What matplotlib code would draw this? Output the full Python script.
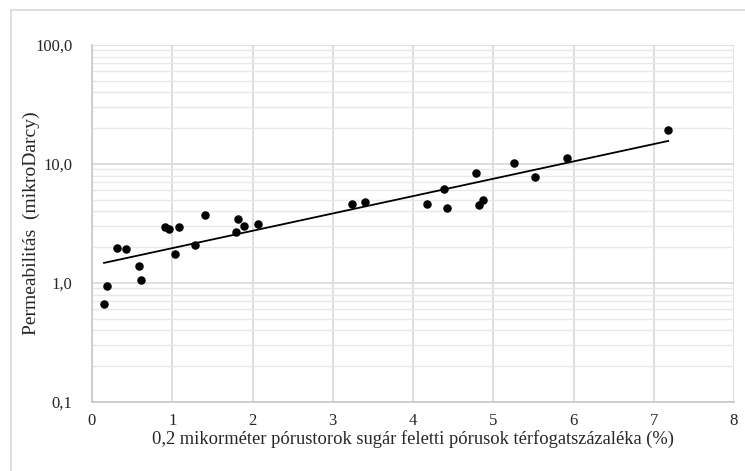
import numpy as np
import matplotlib
matplotlib.use('Agg')
import matplotlib.pyplot as plt
from matplotlib.ticker import FixedLocator, FuncFormatter, LogLocator, NullFormatter

# pore volume fraction above 0.2 micron throat radius (%) and permeability (mD)
pore_pct = [0.15, 0.19, 0.31, 0.42, 0.59, 0.61, 0.91, 0.96, 1.04, 1.09,
            1.28, 1.41, 1.79, 1.82, 1.89, 2.07, 3.24, 3.40, 4.18, 4.39,
            4.42, 4.78, 4.82, 4.87, 5.26, 5.52, 5.92, 7.18]
perm_md = [0.66, 0.95, 1.97, 1.93, 1.39, 1.07, 2.97, 2.83, 1.74, 2.97,
           2.10, 3.75, 2.67, 3.47, 3.01, 3.13, 4.64, 4.79, 4.64, 6.20,
           4.29, 8.40, 4.50, 5.01, 10.26, 7.78, 11.2, 19.4]

x_ticks = [0, 1, 2, 3, 4, 5, 6, 7, 8]
y_ticks = [0.1, 1, 10, 100]

x_label = '0,2 mikorméter pórustorok sugár feletti pórusok térfogatszázaléka (%)'
y_label = 'Permeabilitás  (mikroDarcy)'

plt.rcParams['font.family'] = ['Liberation Serif', 'DejaVu Serif']

fig = plt.figure(figsize=(7.45, 4.71), dpi=100)
ax = fig.add_axes([92 / 745, 1 - 402 / 471, (734 - 92) / 745, (402 - 45) / 471])

ax.scatter(pore_pct, perm_md, s=26, color='black', zorder=3)

# exponential trend line (least squares on log y)
xs = np.array(pore_pct)
b, ln_a = np.polyfit(xs, np.log(perm_md), 1)
x_fit = np.linspace(xs.min(), xs.max(), 50)
ax.plot(x_fit, np.exp(ln_a + b * x_fit), color='black', lw=1.3, zorder=2)

ax.set_yscale('log')
ax.set_xlim(0, 8)
ax.set_ylim(0.1, 100)
ax.xaxis.set_major_locator(FixedLocator(x_ticks))
ax.yaxis.set_major_locator(FixedLocator(y_ticks))
ax.yaxis.set_minor_locator(LogLocator(base=10, subs=np.arange(2, 10)))
ax.yaxis.set_minor_formatter(NullFormatter())
ax.yaxis.set_major_formatter(FuncFormatter(lambda v, p: f'{v:.1f}'.replace('.', ',')))
ax.xaxis.set_major_formatter(FuncFormatter(lambda v, p: f'{int(v)}'))

grid_col = '#d9d9d9'
ax.grid(True, which='major', color=grid_col, lw=1.2)
ax.grid(True, which='minor', axis='y', color='#e8e8e8', lw=1.0)
ax.set_axisbelow(True)
for side in ['top', 'right']:
    ax.spines[side].set_visible(False)
for side in ['left', 'bottom']:
    ax.spines[side].set_color('#c8c8c8')
    ax.spines[side].set_linewidth(1.2)

ax.tick_params(which='both', length=0, labelsize=12, colors='#262626', pad=14)
ax.tick_params(axis='x', pad=8)

ax.set_xlabel(x_label, fontsize=13.3, color='#262626', labelpad=1)
ax.set_ylabel(y_label, fontsize=14, color='#262626', labelpad=-2)
ax.yaxis.set_label_coords(-52 / 642, 0.5)

# outer chart border
fig.add_artist(plt.Line2D([10.5 / 745, 10.5 / 745], [0, 1 - 10 / 471],
                          transform=fig.transFigure, color='#d9d9d9', lw=1.2))
fig.add_artist(plt.Line2D([10.5 / 745, 1], [1 - 10 / 471, 1 - 10 / 471],
                          transform=fig.transFigure, color='#d9d9d9', lw=1.2))

fig.savefig('out.png', dpi=100)
